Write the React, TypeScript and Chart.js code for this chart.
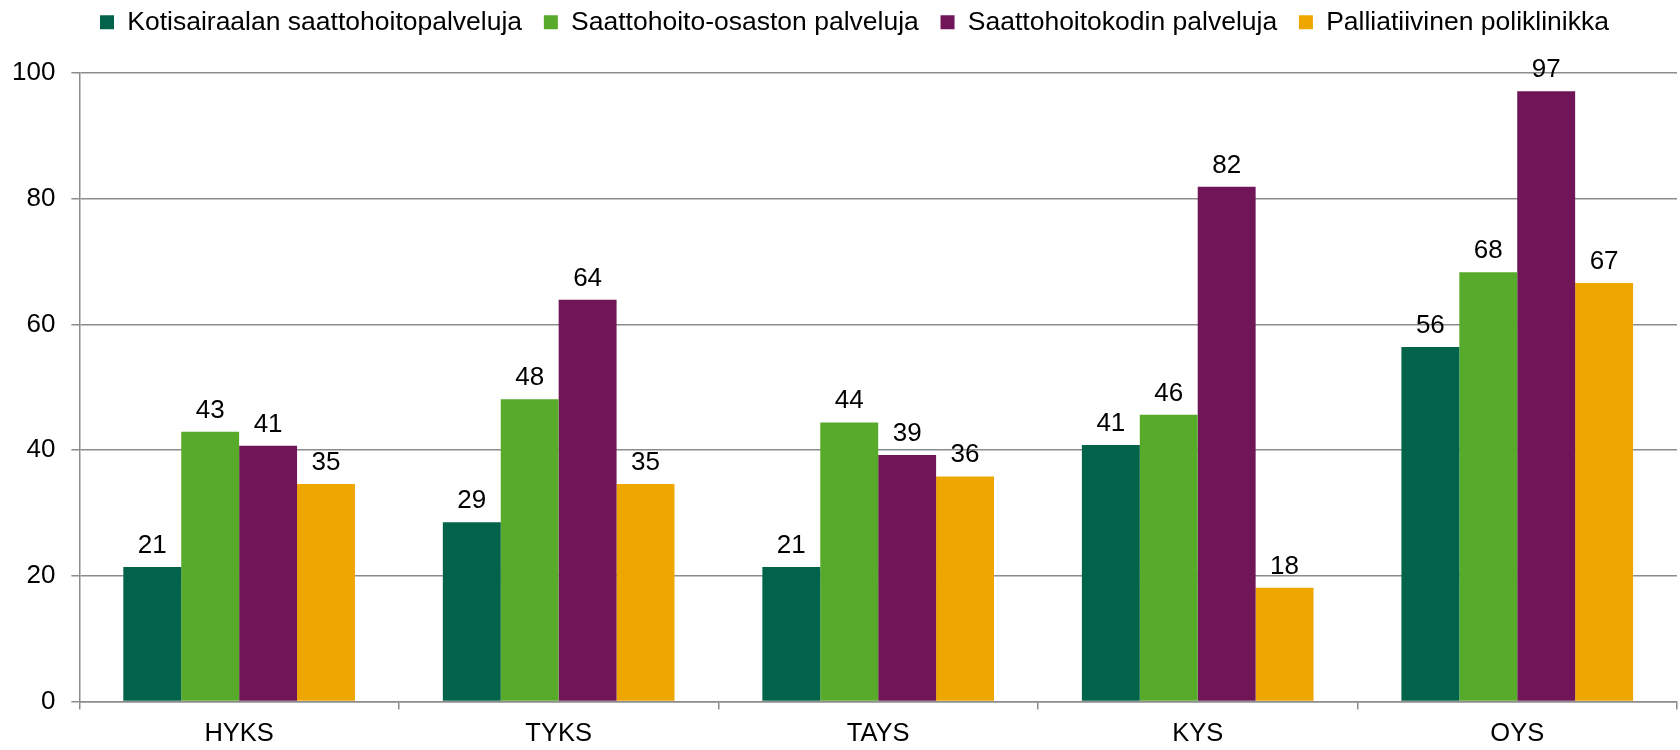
import React, { useEffect, useRef } from "react";
import { Chart, registerables } from "chart.js";

Chart.register(...registerables);

const categories = ["HYKS", "TYKS", "TAYS", "KYS", "OYS"];
const seriesNames = [
  "Kotisairaalan saattohoitopalveluja",
  "Saattohoito-osaston palveluja",
  "Saattohoitokodin palveluja",
  "Palliatiivinen poliklinikka",
];
const kotisairaala = [21.4, 28.5, 21.4, 40.8, 56.4];
const saattohoitoOsasto = [42.9, 48.1, 44.4, 45.6, 68.3];
const saattohoitokoti = [40.7, 63.9, 39.2, 81.9, 97.1];
const poliklinikka = [34.6, 34.6, 35.8, 18.1, 66.6];
const seriesColors = ["#00634A", "#58AB2A", "#6F1558", "#EEA700"];
const yTicks = [0, 20, 40, 60, 80, 100];

const FONT = "'Liberation Sans', Arial, sans-serif";

const valueLabels = {
  id: "valueLabels",
  afterDatasetsDraw(chart: any) {
    const ctx = chart.ctx;
    ctx.save();
    ctx.font = `26px ${FONT}`;
    ctx.fillStyle = "#000";
    ctx.textAlign = "center";
    ctx.textBaseline = "alphabetic";
    chart.data.datasets.forEach((ds: any, i: number) => {
      const meta = chart.getDatasetMeta(i);
      meta.data.forEach((bar: any, j: number) => {
        const v = ds.data[j];
        ctx.fillText(String(Math.round(v)), bar.x, bar.y - 14);
      });
    });
    ctx.restore();
  },
};

const legendSpacer = {
  id: "legendSpacer",
  beforeInit(chart: any) {
    const legend = chart.legend;
    if (!legend) return;
    const origFit = legend.fit;
    legend.fit = function () {
      origFit.call(this);
      this.height += 27.5;
    };
  },
  afterLayout(chart: any) {
    const legend = chart.legend;
    if (!legend) return;
    legend.left += 18;
    legend.right += 18;
  },
};

export default function App() {
  const ref = useRef<HTMLCanvasElement>(null);
  useEffect(() => {
    document.body.style.margin = "0";
    const values = [kotisairaala, saattohoitoOsasto, saattohoitokoti, poliklinikka];
    const chart = new Chart(ref.current!, {
      type: "bar",
      data: {
        labels: categories,
        datasets: seriesNames.map((name, i) => ({
          label: name,
          data: values[i],
          backgroundColor: seriesColors[i],
          borderWidth: 0,
          barPercentage: 1,
          categoryPercentage: 0.725,
        })),
      },
      options: {
        animation: false,
        responsive: true,
        maintainAspectRatio: false,
        layout: { padding: { top: -12.75, left: -4, right: 3, bottom: -8 } },
        plugins: {
          legend: {
            position: "top",
            labels: {
              boxWidth: 14,
              boxHeight: 14,
              padding: 21.75,
              color: "#000",
              font: { family: FONT, size: 26.5 },
            },
          },
          tooltip: { enabled: false },
        },
        scales: {
          x: {
            grid: {
              display: true,
              drawOnChartArea: false,
              drawTicks: true,
              tickLength: 8,
              color: "#8c8c8c",
              lineWidth: 1.5,
              offset: true,
            },
            border: { color: "#8c8c8c", width: 1.5 },
            ticks: { color: "#000", font: { family: FONT, size: 25.5 }, padding: 9 },
          },
          y: {
            min: 0,
            max: 100,
            afterBuildTicks: (axis: any) => {
              axis.ticks = yTicks.map((v) => ({ value: v }));
            },
            grid: {
              color: "#8c8c8c",
              lineWidth: 1.5,
              drawTicks: true,
              tickLength: 8,
            },
            border: { color: "#8c8c8c", width: 1.5 },
            ticks: { color: "#000", font: { family: FONT, size: 26 }, padding: 16 },
          },
        },
      },
      plugins: [valueLabels, legendSpacer],
    });
    return () => chart.destroy();
  }, []);
  return (
    <div style={{ width: "1680px", height: "750px", position: "relative" }}>
      <canvas ref={ref} />
    </div>
  );
}
